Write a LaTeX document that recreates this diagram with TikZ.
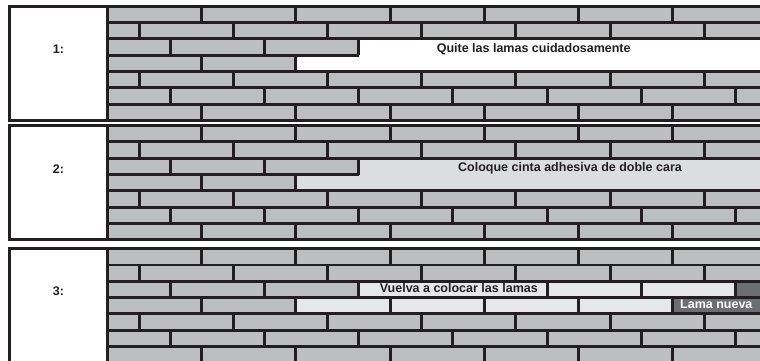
\documentclass[tikz,border=0pt]{standalone}
\usepackage{fontspec}
\setmainfont{Liberation Sans}
\definecolor{ink}{HTML}{231F20}
\definecolor{brickgray}{HTML}{BCBEC0}
\definecolor{tapegray}{HTML}{DCDDDE}
\definecolor{lamaold}{HTML}{E6E7E8}
\definecolor{lamanew}{HTML}{6D6E71}
\newcommand\rowjoints[3]{\foreach \jx in {#3} {\draw[ln] (\jx,#1) -- (\jx,#2);}}
\begin{document}
\begin{tikzpicture}[x=1pt,y=-1pt,
  ln/.style={draw=ink,line width=2.9pt},
  lbl/.style={font=\fontsize{12.5}{14}\selectfont\bfseries,text=ink,inner sep=0pt,anchor=base},
  newlbl/.style={lbl,text=white}]
\useasboundingbox (0,0) rectangle (760,360);
\clip (0,0) rectangle (760,360);
\fill[white] (0,0) rectangle (760,360);
% ---------- Panel 1 ----------
\begin{scope}[shift={(0,6.3)}]
  \fill[white] (9.3,0) rectangle (107.8,114.1);
  \fill[brickgray] (107.8,0) rectangle (780,114.1);
  \fill[white] (358.7,32.6) rectangle (780,48.9);
  \fill[white] (295.9,48.9) rectangle (780,65.2);
  \foreach \yy in {16.3,32.6,65.2,81.5,97.8} {\draw[ln] (107.8,\yy) -- (780,\yy);}
  \draw[ln] (107.8,48.9) -- (358.7,48.9);
  \rowjoints{0}{16.3}{201.7,295.9,390.1,484.3,578.5,672.7}
  \rowjoints{16.3}{32.6}{139.1,233.3,327.5,421.7,515.9,610.1,704.3}
  \rowjoints{32.6}{48.9}{170.3,264.5,358.7}
  \rowjoints{48.9}{65.2}{201.7,295.9}
  \rowjoints{65.2}{81.5}{139.1,233.3,327.5,421.7,515.9,610.1,704.3}
  \rowjoints{81.5}{97.8}{170.3,264.5,358.7,452.9,547.1,641.3,735.5}
  \rowjoints{97.8}{114.1}{201.7,295.9,390.1,484.3,578.5,672.7}
  \draw[ln] (9.3,0) rectangle (790,114.1);
  \draw[ln] (107.8,0) -- (107.8,114.1);
  \node[lbl] (n1) at (58.5,47.3) {1:};
  \node[lbl] (t1) at (533.7,46.6) {Quite las lamas cuidadosamente};
\end{scope}
% ---------- Panel 2 ----------
\begin{scope}[shift={(0,125.6)}]
  \fill[white] (9.3,0) rectangle (107.8,114.1);
  \fill[brickgray] (107.8,0) rectangle (780,114.1);
  \fill[tapegray] (358.7,32.6) rectangle (780,48.9);
  \fill[tapegray] (295.9,48.9) rectangle (780,65.2);
  \foreach \yy in {16.3,32.6,65.2,81.5,97.8} {\draw[ln] (107.8,\yy) -- (780,\yy);}
  \draw[ln] (107.8,48.9) -- (358.7,48.9);
  \rowjoints{0}{16.3}{201.7,295.9,390.1,484.3,578.5,672.7}
  \rowjoints{16.3}{32.6}{139.1,233.3,327.5,421.7,515.9,610.1,704.3}
  \rowjoints{32.6}{48.9}{170.3,264.5,358.7}
  \rowjoints{48.9}{65.2}{201.7,295.9}
  \rowjoints{65.2}{81.5}{139.1,233.3,327.5,421.7,515.9,610.1,704.3}
  \rowjoints{81.5}{97.8}{170.3,264.5,358.7,452.9,547.1,641.3,735.5}
  \rowjoints{97.8}{114.1}{201.7,295.9,390.1,484.3,578.5,672.7}
  \draw[ln] (9.3,0) rectangle (790,114.1);
  \draw[ln] (107.8,0) -- (107.8,114.1);
  \node[lbl] (n2) at (58.5,48.3) {2:};
  \node[lbl] (t2) at (570,46.3) {Coloque cinta adhesiva de doble cara};
\end{scope}
% ---------- Panel 3 ----------
\begin{scope}[shift={(0,248.7)}]
  \fill[white] (9.3,0) rectangle (107.8,114.1);
  \fill[brickgray] (107.8,0) rectangle (780,114.1);
  \fill[lamaold] (358.7,32.6) rectangle (735.5,48.9);
  \fill[lamanew] (735.5,32.6) rectangle (780,48.9);
  \fill[lamaold] (295.9,48.9) rectangle (672.7,65.2);
  \fill[lamanew] (672.7,48.9) rectangle (780,65.2);
  \foreach \yy in {16.3,32.6,48.9,65.2,81.5,97.8} {\draw[ln] (107.8,\yy) -- (780,\yy);}
  \rowjoints{0}{16.3}{201.7,295.9,390.1,484.3,578.5,672.7}
  \rowjoints{16.3}{32.6}{139.1,233.3,327.5,421.7,515.9,610.1,704.3}
  \rowjoints{32.6}{48.9}{170.3,264.5,358.7,547.1,641.3,735.5}
  \rowjoints{48.9}{65.2}{201.7,295.9,390.1,484.3,578.5,672.7}
  \rowjoints{65.2}{81.5}{139.1,233.3,327.5,421.7,515.9,610.1,704.3}
  \rowjoints{81.5}{97.8}{170.3,264.5,358.7,452.9,547.1,641.3,735.5}
  \rowjoints{97.8}{114.1}{201.7,295.9,390.1,484.3,578.5,672.7}
  \draw[ln] (9.3,0) rectangle (790,114.1);
  \draw[ln] (107.8,0) -- (107.8,114.1);
  \node[lbl] (n3) at (58.5,46.6) {3:};
  \node[lbl] (t3) at (458.8,43.8) {Vuelva a colocar las lamas};
  \node[newlbl] (t4) at (716.3,60.1) {Lama nueva};
\end{scope}
\end{tikzpicture}
\end{document}
